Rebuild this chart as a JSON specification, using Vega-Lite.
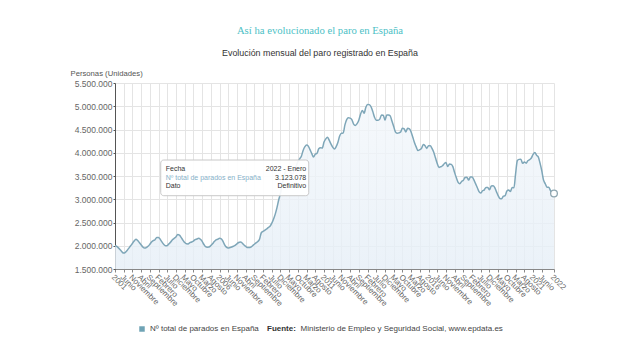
{
  "$schema": "https://vega.github.io/schema/vega-lite/v6.json",
  "width": 439,
  "height": 186,
  "autosize": {"type": "none"},
  "padding": {"left": 115, "top": 83, "right": 86, "bottom": 91},
  "background": "white",
  "title": {
    "text": "Así ha evolucionado el paro en España",
    "subtitle": "Evolución mensual del paro registrado en España",
    "font": "Liberation Serif",
    "fontSize": 10.7,
    "fontWeight": "normal",
    "color": "#4dbfc6",
    "subtitleFont": "Liberation Sans",
    "subtitleFontSize": 8.9,
    "subtitleColor": "#333333",
    "subtitlePadding": 12,
    "anchor": "middle",
    "frame": "group",
    "dx": -14.5,
    "offset": 10
  },
  "config": {
    "locale": {"number": {"decimal": ",", "thousands": ".", "grouping": [3], "currency": ["", " €"]}},
    "view": {"stroke": null},
    "font": "Liberation Sans",
    "axis": {
      "grid": true,
      "gridColor": "#e4e4e4",
      "gridWidth": 1,
      "labelOverlap": false,
      "labelFlush": false,
      "titleFontWeight": "normal"
    },
    "axisX": {
      "labelAngle": 45,
      "labelAlign": "left",
      "labelBaseline": "top",
      "labelFontSize": 8,
      "labelColor": "#666666",
      "labelPadding": 1,
      "domainColor": "#888888",
      "tickColor": "#888888",
      "tickSize": 3,
      "titleFontSize": 8,
      "titleColor": "#444444"
    },
    "axisY": {
      "labelFontSize": 8.5,
      "labelColor": "#666666",
      "labelPadding": 1,
      "domainColor": "#555555",
      "tickColor": "#555555",
      "tickSize": 2,
      "titleFontSize": 7.7,
      "titleColor": "#555555"
    }
  },
  "datasets": {
    "paro": [
      {"fecha":"2001-01-01","parados":2000000},{"fecha":"2001-02-01","parados":1985000},{"fecha":"2001-03-01","parados":1955000},{"fecha":"2001-04-01","parados":1915000},{"fecha":"2001-05-01","parados":1872000},{"fecha":"2001-06-01","parados":1842000},{"fecha":"2001-07-01","parados":1858000},{"fecha":"2001-08-01","parados":1900000},{"fecha":"2001-09-01","parados":1950000},{"fecha":"2001-10-01","parados":2000000},{"fecha":"2001-11-01","parados":2050000},{"fecha":"2001-12-01","parados":2100000},
      {"fecha":"2002-01-01","parados":2140000},{"fecha":"2002-02-01","parados":2112000},{"fecha":"2002-03-01","parados":2070000},{"fecha":"2002-04-01","parados":2022000},{"fecha":"2002-05-01","parados":1975000},{"fecha":"2002-06-01","parados":1950000},{"fecha":"2002-07-01","parados":1960000},{"fecha":"2002-08-01","parados":1990000},{"fecha":"2002-09-01","parados":2030000},{"fecha":"2002-10-01","parados":2080000},{"fecha":"2002-11-01","parados":2110000},{"fecha":"2002-12-01","parados":2130000},
      {"fecha":"2003-01-01","parados":2180000},{"fecha":"2003-02-01","parados":2178000},{"fecha":"2003-03-01","parados":2140000},{"fecha":"2003-04-01","parados":2082000},{"fecha":"2003-05-01","parados":2030000},{"fecha":"2003-06-01","parados":2000000},{"fecha":"2003-07-01","parados":2002000},{"fecha":"2003-08-01","parados":2040000},{"fecha":"2003-09-01","parados":2080000},{"fecha":"2003-10-01","parados":2130000},{"fecha":"2003-11-01","parados":2160000},{"fecha":"2003-12-01","parados":2190000},
      {"fecha":"2004-01-01","parados":2240000},{"fecha":"2004-02-01","parados":2228000},{"fecha":"2004-03-01","parados":2180000},{"fecha":"2004-04-01","parados":2122000},{"fecha":"2004-05-01","parados":2072000},{"fecha":"2004-06-01","parados":2042000},{"fecha":"2004-07-01","parados":2040000},{"fecha":"2004-08-01","parados":2068000},{"fecha":"2004-09-01","parados":2080000},{"fecha":"2004-10-01","parados":2100000},{"fecha":"2004-11-01","parados":2130000},{"fecha":"2004-12-01","parados":2145000},
      {"fecha":"2005-01-01","parados":2160000},{"fecha":"2005-02-01","parados":2140000},{"fecha":"2005-03-01","parados":2100000},{"fecha":"2005-04-01","parados":2032000},{"fecha":"2005-05-01","parados":1980000},{"fecha":"2005-06-01","parados":1970000},{"fecha":"2005-07-01","parados":1972000},{"fecha":"2005-08-01","parados":2002000},{"fecha":"2005-09-01","parados":2042000},{"fecha":"2005-10-01","parados":2090000},{"fecha":"2005-11-01","parados":2128000},{"fecha":"2005-12-01","parados":2140000},
      {"fecha":"2006-01-01","parados":2160000},{"fecha":"2006-02-01","parados":2148000},{"fecha":"2006-03-01","parados":2100000},{"fecha":"2006-04-01","parados":2020000},{"fecha":"2006-05-01","parados":1970000},{"fecha":"2006-06-01","parados":1950000},{"fecha":"2006-07-01","parados":1960000},{"fecha":"2006-08-01","parados":1972000},{"fecha":"2006-09-01","parados":1990000},{"fecha":"2006-10-01","parados":2010000},{"fecha":"2006-11-01","parados":2040000},{"fecha":"2006-12-01","parados":2070000},
      {"fecha":"2007-01-01","parados":2080000},{"fecha":"2007-02-01","parados":2060000},{"fecha":"2007-03-01","parados":2020000},{"fecha":"2007-04-01","parados":1990000},{"fecha":"2007-05-01","parados":1962000},{"fecha":"2007-06-01","parados":1960000},{"fecha":"2007-07-01","parados":1970000},{"fecha":"2007-08-01","parados":2000000},{"fecha":"2007-09-01","parados":2032000},{"fecha":"2007-10-01","parados":2062000},{"fecha":"2007-11-01","parados":2092000},{"fecha":"2007-12-01","parados":2140000},
      {"fecha":"2008-01-01","parados":2280000},{"fecha":"2008-02-01","parados":2310000},{"fecha":"2008-03-01","parados":2330000},{"fecha":"2008-04-01","parados":2360000},{"fecha":"2008-05-01","parados":2390000},{"fecha":"2008-06-01","parados":2420000},{"fecha":"2008-07-01","parados":2480000},{"fecha":"2008-08-01","parados":2570000},{"fecha":"2008-09-01","parados":2680000},{"fecha":"2008-10-01","parados":2820000},{"fecha":"2008-11-01","parados":2990000},{"fecha":"2008-12-01","parados":3130000},
      {"fecha":"2009-01-01","parados":3330000},{"fecha":"2009-02-01","parados":3480000},{"fecha":"2009-03-01","parados":3610000},{"fecha":"2009-04-01","parados":3645000},{"fecha":"2009-05-01","parados":3620000},{"fecha":"2009-06-01","parados":3565000},{"fecha":"2009-07-01","parados":3545000},{"fecha":"2009-08-01","parados":3630000},{"fecha":"2009-09-01","parados":3710000},{"fecha":"2009-10-01","parados":3810000},{"fecha":"2009-11-01","parados":3870000},{"fecha":"2009-12-01","parados":3925000},
      {"fecha":"2010-01-01","parados":4050000},{"fecha":"2010-02-01","parados":4130000},{"fecha":"2010-03-01","parados":4167000},{"fecha":"2010-04-01","parados":4142000},{"fecha":"2010-05-01","parados":4066000},{"fecha":"2010-06-01","parados":3982000},{"fecha":"2010-07-01","parados":3909000},{"fecha":"2010-08-01","parados":3970000},{"fecha":"2010-09-01","parados":3990000},{"fecha":"2010-10-01","parados":4085000},{"fecha":"2010-11-01","parados":4110000},{"fecha":"2010-12-01","parados":4100000},
      {"fecha":"2011-01-01","parados":4231000},{"fecha":"2011-02-01","parados":4299000},{"fecha":"2011-03-01","parados":4333000},{"fecha":"2011-04-01","parados":4270000},{"fecha":"2011-05-01","parados":4190000},{"fecha":"2011-06-01","parados":4122000},{"fecha":"2011-07-01","parados":4080000},{"fecha":"2011-08-01","parados":4130000},{"fecha":"2011-09-01","parados":4226000},{"fecha":"2011-10-01","parados":4360000},{"fecha":"2011-11-01","parados":4420000},{"fecha":"2011-12-01","parados":4422000},
      {"fecha":"2012-01-01","parados":4600000},{"fecha":"2012-02-01","parados":4712000},{"fecha":"2012-03-01","parados":4751000},{"fecha":"2012-04-01","parados":4744000},{"fecha":"2012-05-01","parados":4714000},{"fecha":"2012-06-01","parados":4615000},{"fecha":"2012-07-01","parados":4587000},{"fecha":"2012-08-01","parados":4625000},{"fecha":"2012-09-01","parados":4705000},{"fecha":"2012-10-01","parados":4834000},{"fecha":"2012-11-01","parados":4908000},{"fecha":"2012-12-01","parados":4849000},
      {"fecha":"2013-01-01","parados":4980000},{"fecha":"2013-02-01","parados":5040000},{"fecha":"2013-03-01","parados":5035000},{"fecha":"2013-04-01","parados":4989000},{"fecha":"2013-05-01","parados":4890000},{"fecha":"2013-06-01","parados":4763000},{"fecha":"2013-07-01","parados":4698000},{"fecha":"2013-08-01","parados":4699000},{"fecha":"2013-09-01","parados":4724000},{"fecha":"2013-10-01","parados":4811000},{"fecha":"2013-11-01","parados":4809000},{"fecha":"2013-12-01","parados":4701000},
      {"fecha":"2014-01-01","parados":4814000},{"fecha":"2014-02-01","parados":4812000},{"fecha":"2014-03-01","parados":4796000},{"fecha":"2014-04-01","parados":4684000},{"fecha":"2014-05-01","parados":4572000},{"fecha":"2014-06-01","parados":4450000},{"fecha":"2014-07-01","parados":4420000},{"fecha":"2014-08-01","parados":4427000},{"fecha":"2014-09-01","parados":4448000},{"fecha":"2014-10-01","parados":4527000},{"fecha":"2014-11-01","parados":4512000},{"fecha":"2014-12-01","parados":4448000},
      {"fecha":"2015-01-01","parados":4526000},{"fecha":"2015-02-01","parados":4512000},{"fecha":"2015-03-01","parados":4451000},{"fecha":"2015-04-01","parados":4333000},{"fecha":"2015-05-01","parados":4215000},{"fecha":"2015-06-01","parados":4120000},{"fecha":"2015-07-01","parados":4046000},{"fecha":"2015-08-01","parados":4068000},{"fecha":"2015-09-01","parados":4094000},{"fecha":"2015-10-01","parados":4176000},{"fecha":"2015-11-01","parados":4150000},{"fecha":"2015-12-01","parados":4094000},
      {"fecha":"2016-01-01","parados":4152000},{"fecha":"2016-02-01","parados":4152000},{"fecha":"2016-03-01","parados":4094000},{"fecha":"2016-04-01","parados":4011000},{"fecha":"2016-05-01","parados":3891000},{"fecha":"2016-06-01","parados":3768000},{"fecha":"2016-07-01","parados":3684000},{"fecha":"2016-08-01","parados":3698000},{"fecha":"2016-09-01","parados":3721000},{"fecha":"2016-10-01","parados":3764000},{"fecha":"2016-11-01","parados":3789000},{"fecha":"2016-12-01","parados":3702000},
      {"fecha":"2017-01-01","parados":3760000},{"fecha":"2017-02-01","parados":3750000},{"fecha":"2017-03-01","parados":3702000},{"fecha":"2017-04-01","parados":3573000},{"fecha":"2017-05-01","parados":3461000},{"fecha":"2017-06-01","parados":3363000},{"fecha":"2017-07-01","parados":3335000},{"fecha":"2017-08-01","parados":3382000},{"fecha":"2017-09-01","parados":3410000},{"fecha":"2017-10-01","parados":3467000},{"fecha":"2017-11-01","parados":3474000},{"fecha":"2017-12-01","parados":3412000},
      {"fecha":"2018-01-01","parados":3476000},{"fecha":"2018-02-01","parados":3477000},{"fecha":"2018-03-01","parados":3422000},{"fecha":"2018-04-01","parados":3335000},{"fecha":"2018-05-01","parados":3252000},{"fecha":"2018-06-01","parados":3163000},{"fecha":"2018-07-01","parados":3135000},{"fecha":"2018-08-01","parados":3182000},{"fecha":"2018-09-01","parados":3202000},{"fecha":"2018-10-01","parados":3255000},{"fecha":"2018-11-01","parados":3252000},{"fecha":"2018-12-01","parados":3202000},
      {"fecha":"2019-01-01","parados":3285000},{"fecha":"2019-02-01","parados":3289000},{"fecha":"2019-03-01","parados":3255000},{"fecha":"2019-04-01","parados":3164000},{"fecha":"2019-05-01","parados":3079000},{"fecha":"2019-06-01","parados":3016000},{"fecha":"2019-07-01","parados":3011000},{"fecha":"2019-08-01","parados":3065000},{"fecha":"2019-09-01","parados":3079000},{"fecha":"2019-10-01","parados":3178000},{"fecha":"2019-11-01","parados":3199000},{"fecha":"2019-12-01","parados":3164000},
      {"fecha":"2020-01-01","parados":3253000},{"fecha":"2020-02-01","parados":3246000},{"fecha":"2020-03-01","parados":3549000},{"fecha":"2020-04-01","parados":3832000},{"fecha":"2020-05-01","parados":3857000},{"fecha":"2020-06-01","parados":3862000},{"fecha":"2020-07-01","parados":3773000},{"fecha":"2020-08-01","parados":3802000},{"fecha":"2020-09-01","parados":3776000},{"fecha":"2020-10-01","parados":3827000},{"fecha":"2020-11-01","parados":3851000},{"fecha":"2020-12-01","parados":3888000},
      {"fecha":"2021-01-01","parados":3964000},{"fecha":"2021-02-01","parados":4008000},{"fecha":"2021-03-01","parados":3949000},{"fecha":"2021-04-01","parados":3911000},{"fecha":"2021-05-01","parados":3782000},{"fecha":"2021-06-01","parados":3614000},{"fecha":"2021-07-01","parados":3416000},{"fecha":"2021-08-01","parados":3334000},{"fecha":"2021-09-01","parados":3258000},{"fecha":"2021-10-01","parados":3257000},{"fecha":"2021-11-01","parados":3183000},{"fecha":"2021-12-01","parados":3106000},
      {"fecha":"2022-01-01","parados":3123078}
    ],
    "info": [
      {"fila": 1, "etiqueta": "Fecha", "valor": "2022 - Enero"},
      {"fila": 2, "etiqueta": "Nº total de parados en España", "valor": "3.123.078"},
      {"fila": 3, "etiqueta": "Dato", "valor": "Definitivo"}
    ]
  },
  "layer": [
    {
      "data": {"name": "paro"},
      "mark": {
        "type": "area",
        "clip": true,
        "interpolate": "monotone",
        "fillOpacity": 0.8,
        "color": {"gradient": "linear", "x1": 0, "y1": 0, "x2": 0, "y2": 1, "stops": [{"offset": 0, "color": "#f3f7fb"}, {"offset": 1, "color": "#e0ebf5"}]}
      },
      "encoding": {
        "x": {
          "field": "fecha",
          "type": "temporal",
          "scale": {"type": "utc", "domain": [{"year": 2001, "month": 1, "date": 1, "utc": true}, {"year": 2022, "month": 1, "date": 1, "utc": true}], "nice": false},
          "axis": {
            "values": [
              {"year":2001,"month":1,"date":1,"utc":true},{"year":2001,"month":6,"date":1,"utc":true},{"year":2001,"month":11,"date":1,"utc":true},{"year":2002,"month":4,"date":1,"utc":true},{"year":2002,"month":9,"date":1,"utc":true},{"year":2003,"month":2,"date":1,"utc":true},{"year":2003,"month":7,"date":1,"utc":true},{"year":2003,"month":12,"date":1,"utc":true},{"year":2004,"month":5,"date":1,"utc":true},{"year":2004,"month":10,"date":1,"utc":true},{"year":2005,"month":3,"date":1,"utc":true},{"year":2005,"month":8,"date":1,"utc":true},
              {"year":2006,"month":1,"date":1,"utc":true},{"year":2006,"month":6,"date":1,"utc":true},{"year":2006,"month":11,"date":1,"utc":true},{"year":2007,"month":4,"date":1,"utc":true},{"year":2007,"month":9,"date":1,"utc":true},{"year":2008,"month":2,"date":1,"utc":true},{"year":2008,"month":7,"date":1,"utc":true},{"year":2008,"month":12,"date":1,"utc":true},{"year":2009,"month":5,"date":1,"utc":true},{"year":2009,"month":10,"date":1,"utc":true},{"year":2010,"month":3,"date":1,"utc":true},{"year":2010,"month":8,"date":1,"utc":true},
              {"year":2011,"month":1,"date":1,"utc":true},{"year":2011,"month":6,"date":1,"utc":true},{"year":2011,"month":11,"date":1,"utc":true},{"year":2012,"month":4,"date":1,"utc":true},{"year":2012,"month":9,"date":1,"utc":true},{"year":2013,"month":2,"date":1,"utc":true},{"year":2013,"month":7,"date":1,"utc":true},{"year":2013,"month":12,"date":1,"utc":true},{"year":2014,"month":5,"date":1,"utc":true},{"year":2014,"month":10,"date":1,"utc":true},{"year":2015,"month":3,"date":1,"utc":true},{"year":2015,"month":8,"date":1,"utc":true},
              {"year":2016,"month":1,"date":1,"utc":true},{"year":2016,"month":6,"date":1,"utc":true},{"year":2016,"month":11,"date":1,"utc":true},{"year":2017,"month":4,"date":1,"utc":true},{"year":2017,"month":9,"date":1,"utc":true},{"year":2018,"month":2,"date":1,"utc":true},{"year":2018,"month":7,"date":1,"utc":true},{"year":2018,"month":12,"date":1,"utc":true},{"year":2019,"month":5,"date":1,"utc":true},{"year":2019,"month":10,"date":1,"utc":true},{"year":2020,"month":3,"date":1,"utc":true},{"year":2020,"month":8,"date":1,"utc":true},
              {"year":2021,"month":1,"date":1,"utc":true},{"year":2021,"month":6,"date":1,"utc":true},{"year":2022,"month":1,"date":1,"utc":true}
            ],
            "tickCount": 200,
            "labelExpr": "utcmonth(datum.value) == 0 ? utcyear(datum.value) + '' : ['Enero','Febrero','Marzo','Abril','Mayo','Junio','Julio','Agosto','Septiembre','Octubre','Noviembre','Diciembre'][utcmonth(datum.value)]",
            "labelOverlap": false,
            "title": "Ministerio de Empleo y Seguridad Social, www.epdata.es",
            "titleX": 185,
            "titleY": 59,
            "titleAlign": "left",
            "titleBaseline": "middle"
          }
        },
        "y": {
          "field": "parados",
          "type": "quantitative",
          "scale": {"domain": [1500000, 5500000], "nice": false, "zero": false},
          "axis": {
            "values": [1500000, 2000000, 2500000, 3000000, 3500000, 4000000, 4500000, 5000000, 5500000],
            "tickCount": 20,
            "format": ",d",
            "labelOverlap": false,
            "title": "Personas (Unidades)",
            "titleAngle": 0,
            "titleX": -45,
            "titleY": -10,
            "titleAlign": "left",
            "titleBaseline": "middle"
          }
        }
      }
    },
    {
      "data": {"name": "paro"},
      "mark": {"type": "line", "interpolate": "monotone", "strokeWidth": 1.5},
      "encoding": {
        "x": {"field": "fecha", "type": "temporal"},
        "y": {"field": "parados", "type": "quantitative"},
        "color": {
          "datum": "Nº total de parados en España",
          "scale": {"range": ["#7ea6b8"]},
          "legend": {
            "orient": "none",
            "legendX": 23,
            "legendY": 242,
            "direction": "horizontal",
            "title": "Fuente:",
            "titleOrient": "right",
            "titleFontWeight": "bold",
            "titleFontSize": 8,
            "titleColor": "#333333",
            "titlePadding": 8,
            "titleBaseline": "middle",
            "labelFontSize": 8,
            "labelColor": "#444444",
            "symbolType": "square",
            "symbolSize": 30,
            "symbolStrokeWidth": 0,
            "encode": {"symbols": {"update": {"fill": {"value": "#6fa3b5"}, "strokeWidth": {"value": 0}}}}
          }
        }
      }
    },
    {
      "data": {"name": "paro"},
      "transform": [{"filter": "datum.parados == 3123078"}],
      "mark": {"type": "point", "filled": true, "fill": "white", "stroke": "#8fa6b0", "strokeWidth": 1.3, "size": 45, "opacity": 1},
      "encoding": {
        "x": {"field": "fecha", "type": "temporal"},
        "y": {"field": "parados", "type": "quantitative"}
      }
    },
    {
      "data": {"values": [{"caja": "tooltip"}]},
      "mark": {"type": "rect", "fill": "white", "fillOpacity": 0.92, "stroke": "#c8c8c8", "strokeWidth": 1, "cornerRadius": 3},
      "encoding": {
        "x": {"datum": {"year": 2003, "month": 3, "date": 11, "utc": true}, "type": "temporal"},
        "x2": {"datum": {"year": 2010, "month": 4, "date": 9, "utc": true}},
        "y": {"datum": 3844000, "type": "quantitative"},
        "y2": {"datum": 3076000}
      }
    },
    {
      "data": {"name": "info"},
      "transform": [{"filter": "datum.fila == 1"}],
      "layer": [
        {
          "mark": {"type": "text", "align": "left", "baseline": "middle", "fontSize": 7, "color": "#333333"},
          "encoding": {
            "x": {"datum": {"year": 2003, "month": 6, "date": 6, "utc": true}, "type": "temporal"},
            "y": {"datum": 3651000, "type": "quantitative"},
            "text": {"field": "etiqueta"}
          }
        },
        {
          "mark": {"type": "text", "align": "right", "baseline": "middle", "fontSize": 7, "color": "#333333"},
          "encoding": {
            "x": {"datum": {"year": 2010, "month": 2, "date": 24, "utc": true}, "type": "temporal"},
            "y": {"datum": 3651000, "type": "quantitative"},
            "text": {"field": "valor"}
          }
        }
      ]
    },
    {
      "data": {"name": "info"},
      "transform": [{"filter": "datum.fila == 2"}],
      "layer": [
        {
          "mark": {"type": "text", "align": "left", "baseline": "middle", "fontSize": 7, "color": "#86b1c9"},
          "encoding": {
            "x": {"datum": {"year": 2003, "month": 6, "date": 6, "utc": true}, "type": "temporal"},
            "y": {"datum": 3463000, "type": "quantitative"},
            "text": {"field": "etiqueta"}
          }
        },
        {
          "mark": {"type": "text", "align": "right", "baseline": "middle", "fontSize": 7, "color": "#333333"},
          "encoding": {
            "x": {"datum": {"year": 2010, "month": 2, "date": 24, "utc": true}, "type": "temporal"},
            "y": {"datum": 3463000, "type": "quantitative"},
            "text": {"field": "valor"}
          }
        }
      ]
    },
    {
      "data": {"name": "info"},
      "transform": [{"filter": "datum.fila == 3"}],
      "layer": [
        {
          "mark": {"type": "text", "align": "left", "baseline": "middle", "fontSize": 7, "color": "#333333"},
          "encoding": {
            "x": {"datum": {"year": 2003, "month": 6, "date": 6, "utc": true}, "type": "temporal"},
            "y": {"datum": 3291000, "type": "quantitative"},
            "text": {"field": "etiqueta"}
          }
        },
        {
          "mark": {"type": "text", "align": "right", "baseline": "middle", "fontSize": 7, "color": "#333333"},
          "encoding": {
            "x": {"datum": {"year": 2010, "month": 2, "date": 24, "utc": true}, "type": "temporal"},
            "y": {"datum": 3291000, "type": "quantitative"},
            "text": {"field": "valor"}
          }
        }
      ]
    }
  ]
}
